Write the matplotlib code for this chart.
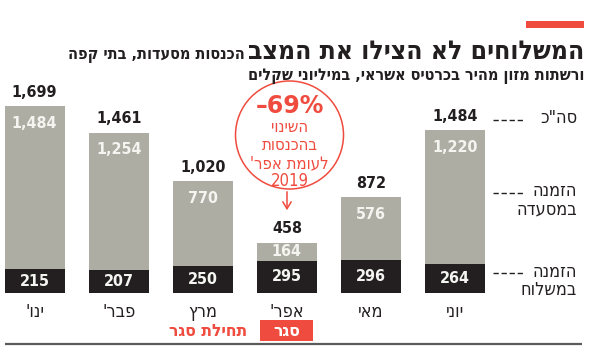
import matplotlib
matplotlib.use("Agg")
import matplotlib.pyplot as plt
from matplotlib.patches import Circle, Rectangle, FancyArrowPatch

# Monthly card revenue of restaurants, cafes and fast food chains (NIS millions)
months = ["ינו'", "פבר'", "מרץ", "אפר'", "מאי", "יוני"]
dine_in = [1484, 1254, 770, 164, 576, 1220]
delivery = [215, 207, 250, 295, 296, 264]
totals = [1699, 1461, 1020, 458, 872, 1484]

title = "המשלוחים לא הצילו את המצב"
subtitle_a = "הכנסות מסעדות, בתי קפה"
subtitle_b = "ורשתות מזון מהיר בכרטיס אשראי, במיליוני שקלים"
legend_total = 'סה"כ'
legend_dine = ["הזמנה", "במסעדה"]
legend_deliv = ["הזמנה", "במשלוח"]
change_pct = "–69%"
change_text = ["השינוי", "בהכנסות", "לעומת אפר'", "2019"]
lockdown = "סגר"
lockdown_start = "תחילת סגר"

GRAY = "#aeada3"
BLACK = "#231f20"
RED = "#ef4b3e"
WHITE = "#f4f4f0"

W, H = 589, 348
FONT = "DejaVu Sans"


def rtl(s):
    """Hebrew text in visual (left-to-right) glyph order."""
    return s[::-1]


fig = plt.figure(figsize=(W / 100, H / 100), dpi=100)
fig.patch.set_facecolor("white")

# bar axes: baseline at y=293 px, 0.1098 px per million
base_px = 293
px_per_unit = 0.1098
step_px = 84.1
first_px = 34.6
ax = fig.add_axes([0, (H - base_px) / H, 1, base_px / H])
ax.set_xlim(-first_px / step_px, (W - first_px) / step_px)
ax.set_ylim(0, base_px / px_per_unit)
ax.axis("off")

x = list(range(len(months)))
bw = 60 / step_px
ax.bar(x, delivery, width=bw, color=BLACK, linewidth=0)
ax.bar(x, dine_in, bottom=delivery, width=bw, color=GRAY, linewidth=0)

num_kw = dict(family=FONT, fontstretch="condensed", fontweight="bold",
              ha="center", va="center")
for i in x:
    tot = totals[i]
    ax.text(i, tot + 14 / px_per_unit, f"{tot:,}", color=BLACK, fontsize=11.5, **num_kw)
    seg_h = dine_in[i] * px_per_unit
    if seg_h < 40:
        gy = delivery[i] + dine_in[i] / 2
    else:
        gy = tot - 17 / px_per_unit
    ax.text(i, gy, f"{dine_in[i]:,}", color=WHITE, fontsize=11.5, **num_kw)
    ax.text(i, delivery[i] / 2, f"{delivery[i]:,}", color=WHITE, fontsize=11.5, **num_kw)
    ax.text(i, -19 / px_per_unit, rtl(months[i]), color=BLACK, fontsize=13,
            family=FONT, fontstretch="condensed", ha="center", va="center",
            clip_on=False)

# overlay in pixel coordinates for headings, legend and callouts
ov = fig.add_axes([0, 0, 1, 1], facecolor="none")
ov.set_xlim(0, W)
ov.set_ylim(H, 0)
ov.axis("off")

ov.add_patch(Rectangle((526, 21), 58, 7, color=RED, linewidth=0))
t = ov.text(584, 59, rtl(title), family=FONT, fontstretch="condensed",
            fontweight="bold", fontsize=19, color=BLACK, ha="right", va="baseline")
fig.canvas.draw()
bb = t.get_window_extent().transformed(ov.transData.inverted())
left = min(bb.x0, bb.x1)
ov.text(left - 3, 59, rtl(subtitle_a), family=FONT, fontstretch="condensed",
        fontweight="bold", fontsize=11.6, color=BLACK, ha="right", va="baseline")
ov.text(584, 80, rtl(subtitle_b), family=FONT, fontstretch="condensed",
        fontweight="bold", fontsize=11.6, color=BLACK, ha="right", va="baseline")

# legend on the right
leg_kw = dict(family=FONT, fontstretch="condensed", fontsize=13, color=BLACK,
              va="center", ha="right", multialignment="right", linespacing=1.0)
dash_kw = dict(color=BLACK, linewidth=1.0, linestyle=(0, (3.8, 2.0)),
               solid_capstyle="butt", dash_capstyle="butt")
ov.text(577, 118, rtl(legend_total), **leg_kw)
ov.plot([493, 523], [120, 120], **dash_kw)
ov.text(577, 200, "\n".join(rtl(s) for s in legend_dine), **leg_kw)
ov.plot([493, 523], [193, 193], **dash_kw)
ov.text(577, 281, "\n".join(rtl(s) for s in legend_deliv), **leg_kw)
ov.plot([493, 523], [273, 273], **dash_kw)

# change callout
cx, cy, r = 289.5, 135, 54
ov.add_patch(Circle((cx, cy), r, facecolor="white", edgecolor=RED, linewidth=1.1))
ov.text(cx, 106, change_pct, family=FONT, fontweight="bold", fontsize=17,
        color=RED, ha="center", va="center")
ov.text(cx, 154, "\n".join(s if s.isdigit() else rtl(s) for s in change_text),
        family=FONT, fontstretch="condensed", fontsize=12, color=RED,
        ha="center", va="center", multialignment="center", linespacing=1.0)
ov.add_patch(FancyArrowPatch((cx - 2.5, cy + r), (cx - 2.5, 213),
                             arrowstyle="->,head_length=5,head_width=3",
                             color=RED, linewidth=1.1, mutation_scale=1))

# lockdown markers and bottom rule
ov.add_patch(Rectangle((260, 320), 53, 21, color=RED, linewidth=0))
ov.text(286.5, 330.5, rtl(lockdown), family=FONT, fontstretch="condensed",
        fontweight="bold", fontsize=12.5, color="white", ha="center", va="center")
ov.text(247, 330.5, rtl(lockdown_start), family=FONT, fontstretch="condensed",
        fontweight="bold", fontsize=12.5, color=RED, ha="right", va="center")
ov.plot([4.5, 582], [343.5, 343.5], color="#5a5a5a", linewidth=1.6,
        solid_capstyle="butt")

fig.savefig("out.png", dpi=100, facecolor="white")
